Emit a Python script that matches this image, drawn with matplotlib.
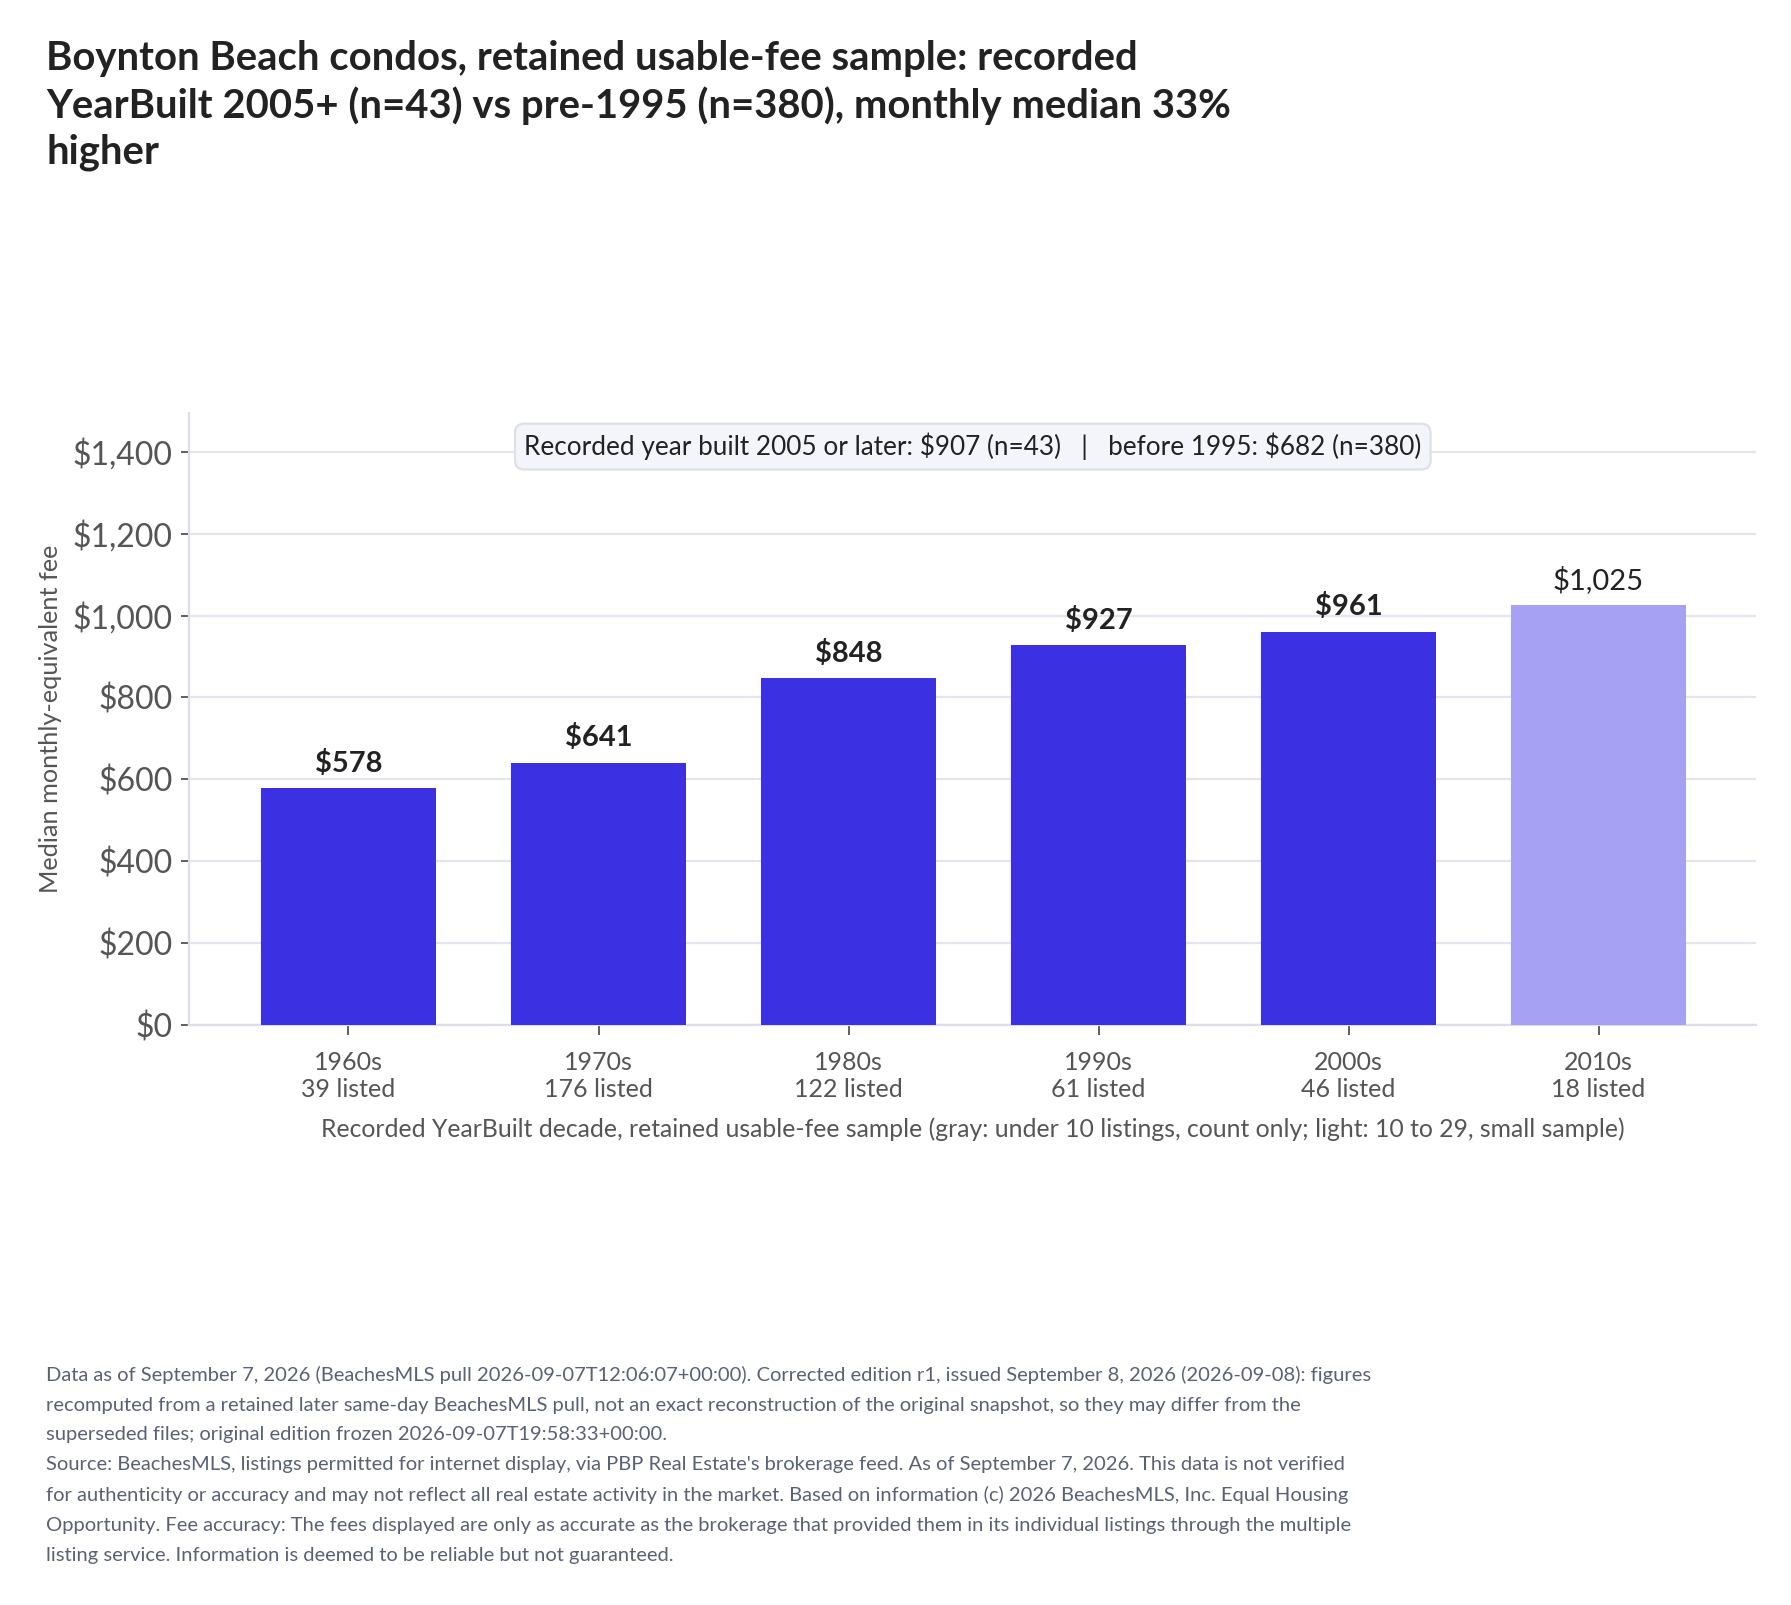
import matplotlib.pyplot as plt
from matplotlib.ticker import FuncFormatter

plt.rcParams['font.family'] = ['Lato', 'DejaVu Sans']

# data
decades = ['1960s', '1970s', '1980s', '1990s', '2000s', '2010s']
listed = [39, 176, 122, 61, 46, 18]
median_fee = [578, 641, 848, 927, 961, 1025]
small_sample = [False, False, False, False, False, True]

title = ("Boynton Beach condos, retained usable-fee sample: recorded\n"
         "YearBuilt 2005+ (n=43) vs pre-1995 (n=380), monthly median 33%\n"
         "higher")
summary = r"Recorded year built 2005 or later: \$907 (n=43)   |   before 1995: \$682 (n=380)"
xlabel = ("Recorded YearBuilt decade, retained usable-fee sample "
          "(gray: under 10 listings, count only; light: 10 to 29, small sample)")
footer = (
    "Data as of September 7, 2026 (BeachesMLS pull 2026-09-07T12:06:07+00:00). Corrected edition r1, issued September 8, 2026 (2026-09-08): figures\n"
    "recomputed from a retained later same-day BeachesMLS pull, not an exact reconstruction of the original snapshot, so they may differ from the\n"
    "superseded files; original edition frozen 2026-09-07T19:58:33+00:00.\n"
    "Source: BeachesMLS, listings permitted for internet display, via PBP Real Estate's brokerage feed. As of September 7, 2026. This data is not verified\n"
    "for authenticity or accuracy and may not reflect all real estate activity in the market. Based on information (c) 2026 BeachesMLS, Inc. Equal Housing\n"
    "Opportunity. Fee accuracy: The fees displayed are only as accurate as the brokerage that provided them in its individual listings through the multiple\n"
    "listing service. Information is deemed to be reliable but not guaranteed."
)

BAR = '#3b31e3'
BAR_LIGHT = '#a6a1f2'
GRID = '#e4e5ef'
TXT = '#222222'
MUTED = '#555555'

fig = plt.figure(figsize=(8.955, 8.025), dpi=200)
ax = fig.add_axes([0.1058, 0.3614, 0.8747, 0.3813])

x = list(range(len(decades)))
colors = [BAR_LIGHT if s else BAR for s in small_sample]
ax.bar(x, median_fee, width=0.7, color=colors, zorder=3)

for xi, v, s in zip(x, median_fee, small_sample):
    ax.annotate(f"${v:,}", (xi, v), xytext=(0, 4), textcoords='offset points',
                ha='center', va='bottom', fontsize=10.5, color=TXT,
                fontweight='normal' if s else 'bold')

ax.set_xlim(-0.636, 5.63)
ax.set_ylim(0, 1495)
ax.set_yticks(range(0, 1401, 200))
ax.yaxis.set_major_formatter(FuncFormatter(lambda v, p: f"${v:,.0f}"))
ax.set_xticks(x)
ax.set_xticklabels([f"{d}\n{n} listed" for d, n in zip(decades, listed)])

ax.grid(axis='y', color=GRID, lw=0.8, zorder=0)
for side in ['top', 'right']:
    ax.spines[side].set_visible(False)
for side in ['left', 'bottom']:
    ax.spines[side].set_color('#dcdeea')
    ax.spines[side].set_linewidth(0.8)

ax.tick_params(axis='y', labelsize=11.5, labelcolor=MUTED, color='#444444', length=3, width=0.6, pad=3)
ax.tick_params(axis='x', labelsize=9.0, labelcolor=MUTED, color='#444444', length=3.6, width=0.6, pad=5.8)

ax.set_ylabel("Median monthly-equivalent fee", fontsize=9.1, color=MUTED, labelpad=4)
ax.set_xlabel(xlabel, fontsize=8.9, color=MUTED, labelpad=6)

ax.text(0.5, 0.945, summary, transform=ax.transAxes, ha='center', va='center',
        fontsize=9.4, color=TXT, zorder=5,
        bbox=dict(boxstyle='round,pad=0.35', fc='#f4f5fa', ec='#dde0ec', lw=0.8))

fig.text(0.0257, 0.975, title, ha='left', va='top', fontsize=14.4,
         fontweight='bold', color=TXT, linespacing=1.29)
fig.text(0.0257, 0.149, footer, ha='left', va='top', fontsize=7.24,
         color='#5a6174', linespacing=1.9)

fig.savefig('out.png', dpi=200)
